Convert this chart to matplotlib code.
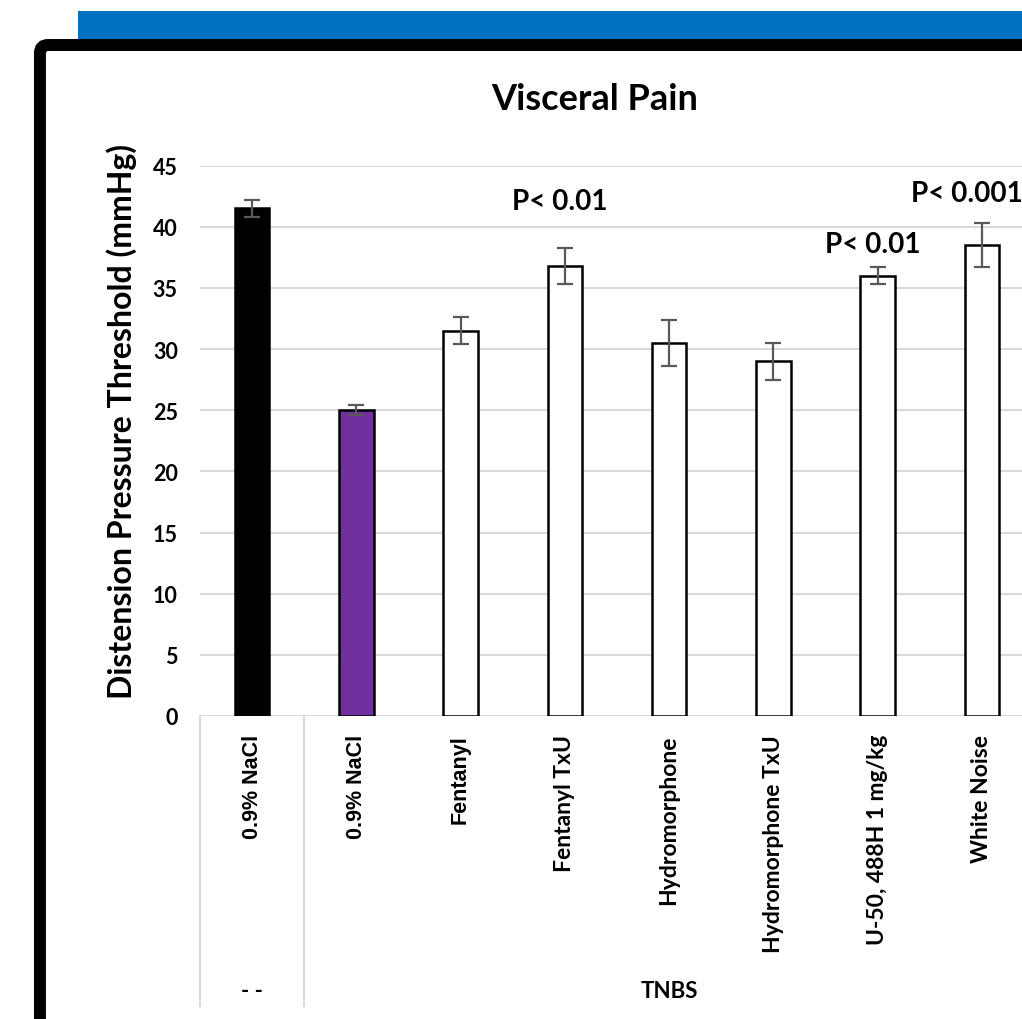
import matplotlib.pyplot as plt
from matplotlib.patches import FancyBboxPatch, Rectangle

groups = ["- -", "TNBS"]
group_sizes = [1, 7]
categories = ["0.9% NaCl", "0.9% NaCl", "Fentanyl", "Fentanyl TxU", "Hydromorphone",
              "Hydromorphone TxU", "U-50, 488H 1 mg/kg", "White Noise"]
means = [41.5, 25.0, 31.5, 36.8, 30.5, 29.0, 36.0, 38.5]
sems = [0.7, 0.4, 1.1, 1.5, 1.9, 1.5, 0.7, 1.8]
p_labels = ["", "", "", "P< 0.01", "", "", "P< 0.01", "P< 0.001"]

calibri = "Lato"
arial = "Liberation Sans"

fig = plt.figure(figsize=(10.22, 10.20), dpi=100)

# blue header strip and the black rounded frame around the slide
fig.add_artist(Rectangle((0.0763, 0.9608), 1.0, 0.0274, transform=fig.transFigure,
                         facecolor="#0070C0", edgecolor="none", zorder=-2))
fig.add_artist(FancyBboxPatch((0.0391, -0.2), 1.2, 1.1549, transform=fig.transFigure,
                              boxstyle="round,pad=0,rounding_size=0.008",
                              facecolor="white", edgecolor="black", linewidth=8.6, zorder=-1))

ax = fig.add_axes([0.1957, 0.2971, 0.816, 0.5395])
ax.set_facecolor("none")

bar_colors = ["black", "#7030A0"] + ["white"] * 6
x = list(range(len(categories)))
ax.bar(x, means, width=0.33, color=bar_colors, edgecolor="black", linewidth=1.8, zorder=3)
ax.errorbar(x, means, yerr=sems, fmt="none", ecolor="#595959", elinewidth=1.6,
            capsize=6, capthick=1.6, zorder=4)

ax.set_xlim(-0.5, len(categories) - 0.5)
ax.set_ylim(0, 45)
ax.set_yticks(range(0, 46, 5))
ax.yaxis.grid(True, color="#d9d9d9", linewidth=1.5, zorder=0)
ax.set_axisbelow(True)
for s in ax.spines.values():
    s.set_visible(False)
ax.axhline(0, color="#d9d9d9", linewidth=1.5, zorder=1)
ax.tick_params(axis="y", length=0, pad=16, labelsize=15.5)
ax.tick_params(axis="x", length=0, pad=13)
for t in ax.get_yticklabels():
    t.set_fontfamily(calibri)
    t.set_fontweight("bold")

ax.set_xticks(x)
ax.set_xticklabels(categories, rotation=90, va="top", ha="center")
for i, t in enumerate(ax.get_xticklabels()):
    t.set_fontweight("bold")
    if i < 3:
        t.set_fontfamily(arial)
        t.set_fontsize(15.5)
    else:
        t.set_fontfamily(calibri)
        t.set_fontsize(16.5)

# group separators and group names under the category labels
trans = ax.get_xaxis_transform()
edge = -0.5
for g, n in zip(groups, group_sizes):
    ax.plot([edge, edge], [0, -0.527], color="#d9d9d9", linewidth=1.5, transform=trans, clip_on=False)
    ax.text(edge + n / 2, -0.498, g, transform=trans, ha="center", va="center",
            fontsize=16, fontweight="bold", fontfamily=calibri)
    edge += n
ax.plot([edge, edge], [0, -0.527], color="#d9d9d9", linewidth=1.5, transform=trans, clip_on=False)

# significance notes placed above the treated groups
p_pos = {3: (2.95, 42.1), 6: (5.95, 38.6), 7: (6.86, 42.8)}
for i, lab in enumerate(p_labels):
    if lab:
        px, py = p_pos[i]
        ax.text(px, py, lab, ha="center", va="center", fontsize=20,
                fontweight="bold", fontfamily=calibri)

ax.text(-0.0935, 0.537, "Distension Pressure Threshold (mmHg)", transform=ax.transAxes,
        rotation=90, ha="center", va="center", fontsize=23, fontweight="bold", fontfamily=calibri)
fig.text(594.5 / 1022, 1 - 100 / 1020, "Visceral Pain", ha="center", va="center",
         fontsize=26, fontweight="bold", fontfamily=calibri)

fig.savefig("out.png", dpi=100)
